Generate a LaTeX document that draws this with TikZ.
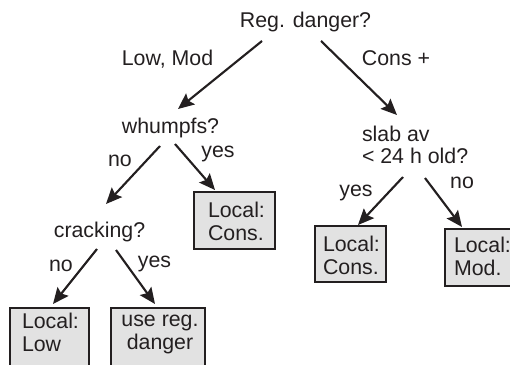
\documentclass[tikz,border=0pt]{standalone}
\usepackage{fontspec}
\setmainfont{Liberation Sans}
\usetikzlibrary{arrows.meta,calc}
\definecolor{ink}{HTML}{231F20}
\definecolor{boxfill}{HTML}{E2E2E2}
\newcommand{\twolines}[3]{\begin{tabular}[t]{@{}#1@{}}#2\\#3\end{tabular}}
\begin{document}
\begin{tikzpicture}[x=0.75pt,y=-0.75pt,
  every node/.style={inner sep=0pt, outer sep=0pt, text=ink,
    font=\fontsize{16}{17.6}\selectfont},
  txt/.style={anchor=base},
  txtl/.style={anchor=base west},
  arr/.style={draw=ink, line width=1.6pt,
    -{Stealth[length=12pt,width=10.5pt,inset=2pt]}},
  leaf/.style={draw=ink, fill=boxfill, line width=1.3pt, anchor=north west},
  ]
\useasboundingbox (0,0) rectangle (510,364);

% outcome boxes
\node[leaf, minimum width=60.75pt, minimum height=42.75pt] (midbox) at (194,192) {};
\node[leaf, minimum width=53.25pt, minimum height=42pt]    (rcons)  at (315,226) {};
\node[leaf, minimum width=56.25pt, minimum height=42.75pt] (rmod)   at (445,229) {};
\node[leaf, minimum width=59.25pt, minimum height=48pt]    (lowbox) at (10,308) {};
\node[leaf, minimum width=70.5pt,  minimum height=48pt]    (regbox) at (111,308) {};

% texts inside the boxes
\node[txtl] (midtxt)  at (208,217) {\twolines{l}{Local:}{Cons.}};
\node[txtl] (rconstxt) at (323,251) {\twolines{l}{Local:}{Cons.}};
\node[txtl] (rmodtxt) at (454,252) {\twolines{l}{Local:}{Mod.}};
\node[txtl] (lowtxt)  at (22,328)  {\twolines{l}{Local:}{Low}};
\node[txt]  (regtxt)  at (160,326) {\twolines{c}{use reg.}{danger}};

% questions
\node[txt]  (reg)   at (305.5,27) {Reg. danger?};
\node[txt]  (wh)    at (170.5,133) {whumpfs?};
\node[txtl] (slab)  at (362,141) {\begin{tabular}[t]{@{}l@{}}slab av\\[-0.6pt]< 24 h old?\end{tabular}};
\node[txt]  (crack) at (99.5,237) {cracking?};

% branch labels
\node[txt] (lowmod)   at (167.5,65) {Low, Mod};
\node[txt] (consplus) at (396,65)   {Cons +};
\node[txt] (whno)     at (120,166)  {no};
\node[txt] (whyes)    at (218,157)  {yes};
\node[txt] (crno)     at (61,271)   {no};
\node[txt] (cryes)    at (154.5,267) {yes};
\node[txt] (slyes)    at (356,196)  {yes};
\node[txt] (slno)     at (462,188)  {no};

% connectors
\draw[arr] ($(reg.base)+(-43.5,14)$) -- ($(wh.base)+(7.5,-24)$);
\draw[arr] ($(reg.base)+(15.5,14)$)  -- ($(slab.base west)+(35,-26)$);
\draw[arr] ($(wh.base)+(-10.5,13)$)  -- ($(crack.base)+(6.5,-33)$);
\draw[arr] ($(wh.base)+(4.5,11)$)    -- ($(midbox.north west)+(21,-2)$);
\draw[arr] ($(crack.base)+(-2.5,12)$) -- ($(lowbox.north west)+(43,-4)$);
\draw[arr] ($(crack.base)+(16.5,13)$) -- ($(regbox.north west)+(44,-4)$);
\draw[arr] ($(slab.base west)+(41,36)$) -- ($(rcons.north west)+(43,-1)$);
\draw[arr] ($(slab.base west)+(63,37)$) -- ($(rmod.north west)+(17,-2)$);
\end{tikzpicture}
\end{document}
